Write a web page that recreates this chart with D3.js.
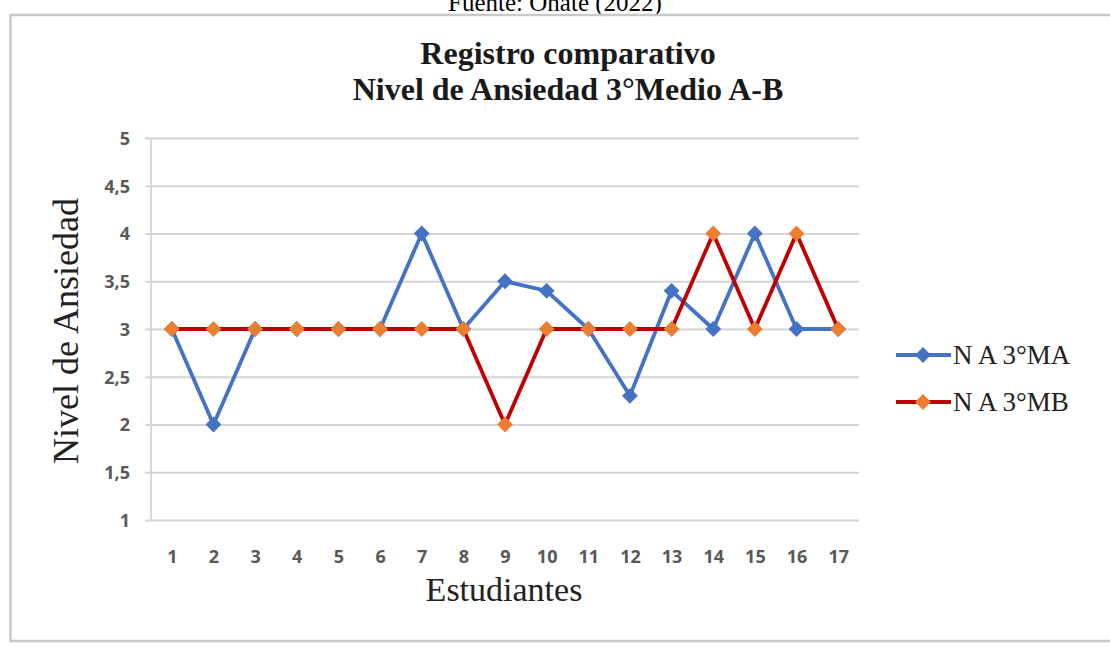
<!DOCTYPE html>
<html><head><meta charset="utf-8">
<script src="https://cdn.jsdelivr.net/npm/d3@7"></script>
<style>body{margin:0;background:#fff}svg{display:block}</style>
</head><body>
<svg id="c" width="1110" height="646"></svg>
<script>
const categories = ["1","2","3","4","5","6","7","8","9","10","11","12","13","14","15","16","17"];
const seriesNames = ["N A 3°MA", "N A 3°MB"];
const serieA = [3, 2, 3, 3, 3, 3, 4, 3, 3.5, 3.4, 3, 2.3, 3.4, 3, 4, 3, 3];
const serieB = [3, 3, 3, 3, 3, 3, 3, 3, 2, 3, 3, 3, 3, 4, 3, 4, 3];
const yTicks = [1, 1.5, 2, 2.5, 3, 3.5, 4, 4.5, 5];

const svg = d3.select("#c");
const m = {l: 151, r: 859, t: 138, b: 520};

// Source caption (partially cut at top, as in the original)
svg.append("text").attr("x", 555).attr("y", 11).attr("text-anchor", "middle")
  .attr("font-family", "Liberation Serif").attr("font-size", 25).attr("fill", "#000")
  .text("Fuente: Oñate (2022)");

// frame
svg.append("path").attr("d", `M1110,15 H10.5 V641 H1110`).attr("fill", "none")
  .attr("stroke", "#c9c9c9").attr("stroke-width", 2.5);

// title
const tg = svg.append("text").attr("text-anchor", "middle")
  .attr("font-family", "Liberation Serif").attr("font-weight", "bold").attr("font-size", 32).attr("fill", "#1a1a1a");
tg.append("tspan").attr("x", 568).attr("y", 64).text("Registro comparativo");
tg.append("tspan").attr("x", 568).attr("y", 100).text("Nivel de Ansiedad 3°Medio A-B");

const x = d3.scalePoint().domain(categories).range([m.l, m.r]).padding(0.5);
const y = d3.scaleLinear().domain([1, 5]).range([m.b, m.t]);

// gridlines
const yAxis = d3.axisLeft(y).tickValues(yTicks).tickSize(0)
  .tickFormat(d => String(d).replace(".", ","));
const gy = svg.append("g").attr("transform", `translate(${m.l - 6},0)`).call(yAxis);
gy.select(".domain").remove();
gy.selectAll(".tick line").attr("stroke", "#d4d4d4").attr("stroke-width", 1.8).attr("x1", 0).attr("x2", m.r - m.l + 6);
gy.selectAll(".tick text").attr("x", -15).attr("dy", "0.36em")
  .attr("font-family", "Open Sans").attr("font-weight", "bold").attr("font-size", 18).attr("fill", "#595959");

// vertical axis line
svg.append("line").attr("x1", m.l).attr("x2", m.l).attr("y1", m.t).attr("y2", m.b)
  .attr("stroke", "#d4d4d4").attr("stroke-width", 1.8);

// x axis labels
const xAxis = d3.axisBottom(x).tickSize(0).tickPadding(0);
const gx = svg.append("g").attr("transform", `translate(0,${m.b})`).call(xAxis);
gx.select(".domain").remove();
gx.selectAll(".tick text").attr("y", 43).attr("dy", 0)
  .attr("font-family", "Open Sans").attr("font-weight", "bold").attr("font-size", 18).attr("fill", "#595959");

// axis titles
svg.append("text").attr("x", 504).attr("y", 601).attr("text-anchor", "middle")
  .attr("font-family", "Liberation Serif").attr("font-size", 34).attr("fill", "#222").text("Estudiantes");
svg.append("text").attr("transform", "translate(78,331) rotate(-90)").attr("text-anchor", "middle")
  .attr("font-family", "Liberation Serif").attr("font-size", 36).attr("fill", "#222").text("Nivel de Ansiedad");

const series = [
  {name: seriesNames[0], values: serieA, line: "#4472C4", mark: "#4472C4"},
  {name: seriesNames[1], values: serieB, line: "#C00000", mark: "#ED7D31"}
];
const line = d3.line().x((d, i) => x(categories[i])).y(d => y(d));
const diamond = d3.symbol().type(d3.symbolSquare).size(125);

series.forEach(s => {
  svg.append("path").datum(s.values).attr("d", line).attr("fill", "none")
    .attr("stroke", s.line).attr("stroke-width", 3.8).attr("stroke-linejoin", "round");
  svg.append("g").selectAll("path").data(s.values).join("path")
    .attr("d", diamond).attr("fill", s.mark)
    .attr("transform", (d, i) => `translate(${x(categories[i])},${y(d)}) rotate(45)`);
});

// legend
const lg = svg.append("g");
series.forEach((s, i) => {
  const ly = 355 + i * 47;
  lg.append("line").attr("x1", 896).attr("x2", 951).attr("y1", ly).attr("y2", ly)
    .attr("stroke", s.line).attr("stroke-width", 3.8);
  lg.append("path").attr("d", diamond).attr("fill", s.mark).attr("transform", `translate(923,${ly}) rotate(45)`);
  lg.append("text").attr("x", 953).attr("y", ly + 9).attr("font-family", "Liberation Serif")
    .attr("font-size", 27).attr("fill", "#222").text(s.name);
});
</script>
</body></html>
